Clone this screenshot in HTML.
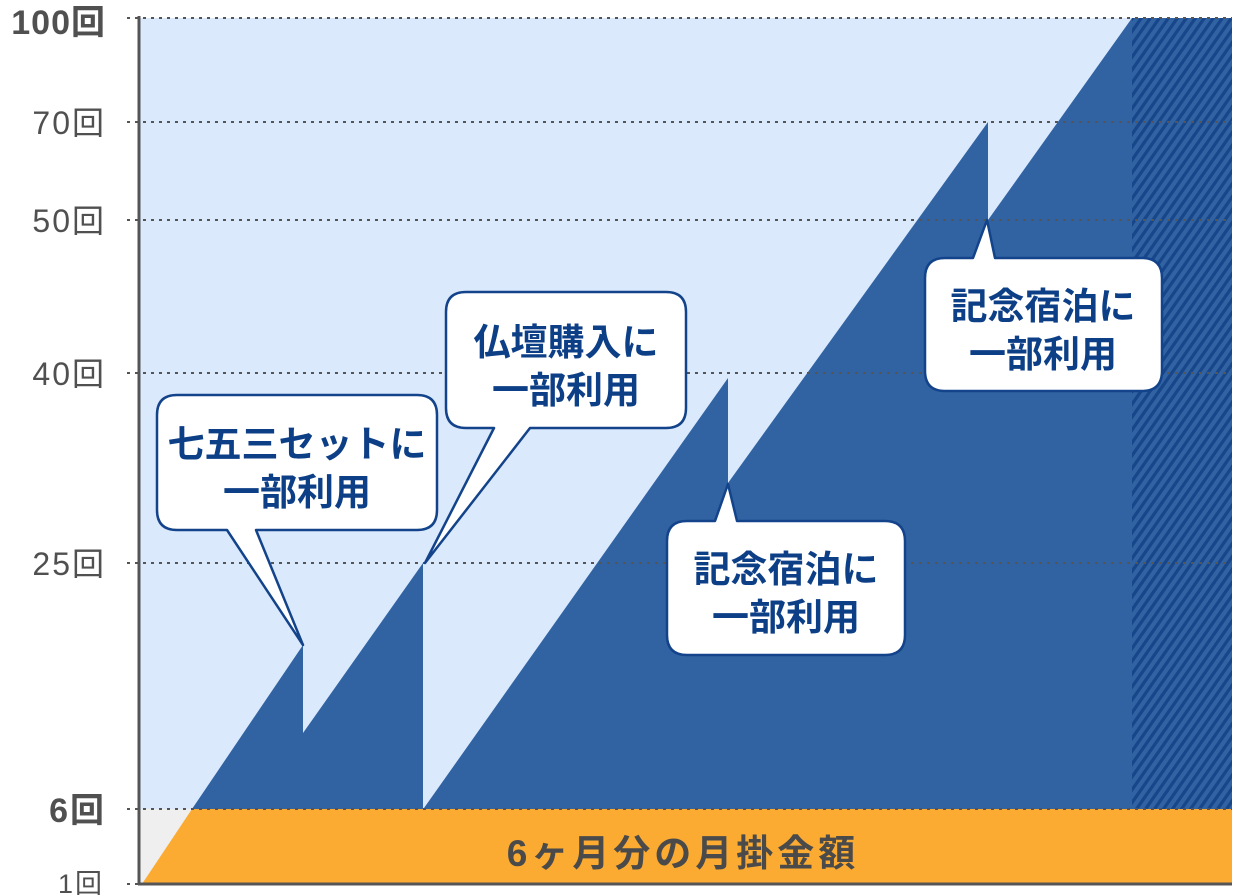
<!DOCTYPE html>
<html><head><meta charset="utf-8"><style>
html,body{margin:0;padding:0;background:#fff;}
svg{display:block;}
text{font-family:"Liberation Sans","Noto Sans CJK JP",sans-serif;}
</style></head><body>
<svg width="1234" height="895" viewBox="0 0 1234 895" xmlns="http://www.w3.org/2000/svg">
<defs>
<pattern id="h" patternUnits="userSpaceOnUse" width="9" height="895" patternTransform="skewX(-35)">
<rect width="9" height="895" fill="#3163a3"/>
<rect x="0" width="4" height="895" fill="#18468a"/>
</pattern>
</defs>
<rect x="140" y="18" width="1092" height="866" fill="#dbe9fc"/>
<rect x="140" y="809" width="60" height="75" fill="#efefef"/>
<polygon points="192,809 303,645 303,733 423,563 423,809 424,808 728,378 728,483 988,122 988,220 1132,18 1232,18 1232,809" fill="#3163a3"/>
<rect x="1132" y="18" width="100" height="791" fill="url(#h)"/>
<polygon points="142,884 192,809 1232,809 1232,884" fill="#fbab31"/>
<g stroke="#555" stroke-width="2" stroke-dasharray="3,5">
<line x1="127" y1="18" x2="1232" y2="18"/>
<line x1="127" y1="122" x2="1232" y2="122"/>
<line x1="127" y1="220" x2="1232" y2="220"/>
<line x1="127" y1="373" x2="1232" y2="373"/>
<line x1="127" y1="563" x2="1232" y2="563"/>
<line x1="127" y1="809" x2="1232" y2="809"/>
<line x1="127" y1="884" x2="140" y2="884"/>
</g>
<line x1="139" y1="16" x2="139" y2="885" stroke="#555" stroke-width="3"/>
<line x1="138" y1="884" x2="1232" y2="884" stroke="#555" stroke-width="3"/>
<g fill="#505050" text-anchor="end">
<text x="106" y="34" font-size="34" font-weight="bold" letter-spacing="1">100回</text>
<text x="106" y="134" font-size="32" letter-spacing="2">70回</text>
<text x="106" y="232" font-size="32" letter-spacing="2">50回</text>
<text x="106" y="385" font-size="32" letter-spacing="2">40回</text>
<text x="106" y="575" font-size="32" letter-spacing="2">25回</text>
<text x="106" y="822" font-size="34" font-weight="bold" letter-spacing="2">6回</text>
<text x="104" y="893" font-size="27" letter-spacing="2">1回</text>
</g>
<text x="683" y="866" font-size="37" font-weight="bold" fill="#4a4a4a" text-anchor="middle" letter-spacing="4">6ヶ月分の月掛金額</text>
<g fill="#fff" stroke="#13438a" stroke-width="2.5" stroke-linejoin="round">
<path d="M177,395 H417 Q437,395 437,415 V510 Q437,530 417,530 H256 L303,645 L227,530 H177 Q157,530 157,510 V415 Q157,395 177,395 Z"/>
<path d="M466,292 H666 Q686,292 686,312 V408 Q686,428 666,428 H530 L425,563 L494,428 H466 Q446,428 446,408 V312 Q446,292 466,292 Z"/>
<path d="M687,521 H715 L728,484 L737,521 H885 Q905,521 905,541 V635 Q905,655 885,655 H687 Q667,655 667,635 V541 Q667,521 687,521 Z"/>
<path d="M945,258 H973 L987,220 L995,258 H1142 Q1162,258 1162,278 V371 Q1162,391 1142,391 H945 Q925,391 925,371 V278 Q925,258 945,258 Z"/>
</g>
<g fill="#0d3f87" font-size="37" font-weight="bold" text-anchor="middle">
<text x="297" y="457">七五三セットに</text>
<text x="297" y="505">一部利用</text>
<text x="566" y="355">仏壇購入に</text>
<text x="566" y="403">一部利用</text>
<text x="786" y="582">記念宿泊に</text>
<text x="786" y="630">一部利用</text>
<text x="1043" y="319">記念宿泊に</text>
<text x="1043" y="367">一部利用</text>
</g>
</svg>
</body></html>
